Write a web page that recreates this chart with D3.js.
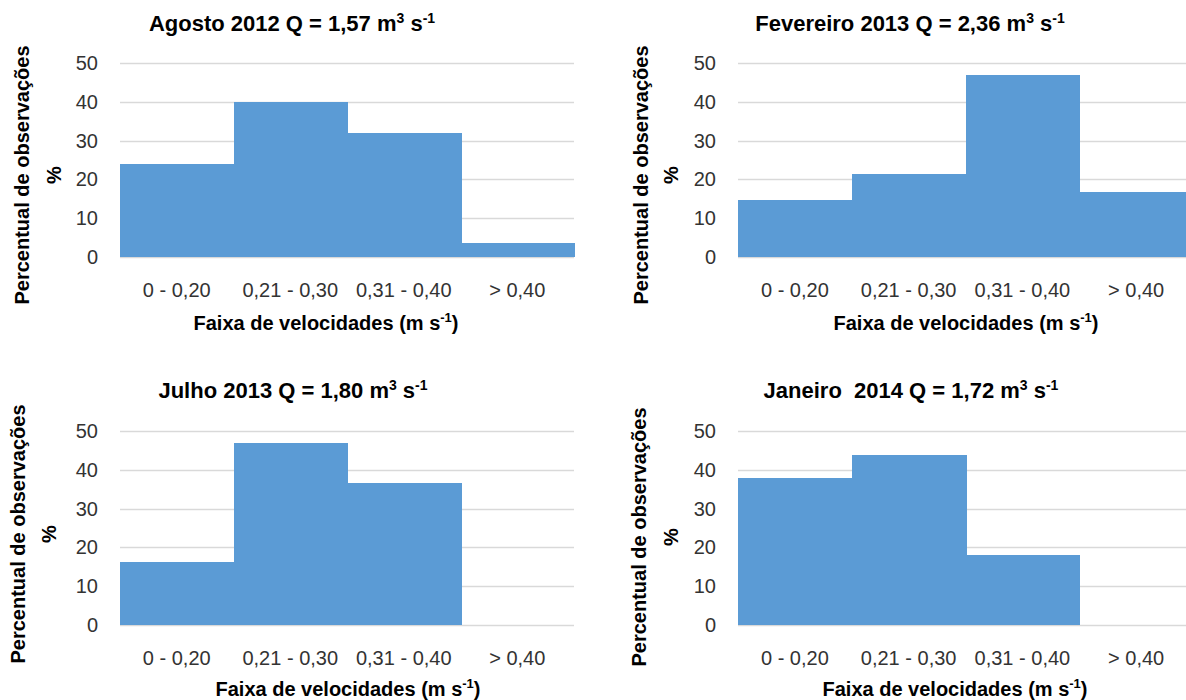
<!DOCTYPE html>
<html>
<head>
<meta charset="utf-8">
<script src="https://cdn.jsdelivr.net/npm/d3@7"></script>
<style>
  html, body { margin: 0; padding: 0; background: #fff; }
  svg { display: block; }
  text { font-family: "Liberation Sans", Arial, sans-serif; }
</style>
</head>
<body>
<svg id="chart" width="1186" height="700"></svg>
<script>
// ---- data ----
const categories = ["0 - 0,20", "0,21 - 0,30", "0,31 - 0,40", "> 0,40"];
const yTicks = [0, 10, 20, 30, 40, 50];
const periods = ["Agosto 2012", "Fevereiro 2013", "Julho 2013", "Janeiro\u00a0 2014"];
const flows = ["1,57", "2,36", "1,80", "1,72"];
const agosto2012 = [24, 40, 32, 3.7];
const fevereiro2013 = [14.8, 21.5, 46.8, 16.7];
const julho2013 = [16.3, 46.9, 36.5, 0];
const janeiro2014 = [37.8, 43.9, 18.0, 0];
const seriesList = [agosto2012, fevereiro2013, julho2013, janeiro2014];
const yTitle = "Percentual de observações";
const yTitle2 = "%";
const xTitle = "Faixa de velocidades (m s";

// ---- layout ----
const layouts = [
  { left: 120, right: 574, top: 63, bottom: 257, titleX: 292, titleY: 31, yt1X: 29, yt2X: 61, ytY: 175, catY: 297, xtX: 326, xtY: 330 },
  { left: 738, right: 1193, top: 63, bottom: 257, titleX: 910, titleY: 31, yt1X: 648, yt2X: 678, ytY: 175, catY: 297, xtX: 966, xtY: 330 },
  { left: 120, right: 574, top: 431, bottom: 625, titleX: 293, titleY: 398, yt1X: 25, yt2X: 56, ytY: 534, catY: 665, xtX: 348, xtY: 696 },
  { left: 738, right: 1193, top: 431, bottom: 625, titleX: 911, titleY: 398, yt1X: 646, yt2X: 678, ytY: 537, catY: 665, xtX: 955, xtY: 696 }
];

const svg = d3.select("#chart");
const barColor = "#5B9BD5";
const gridColor = "#D9D9D9";
const textColor = "#333";

seriesList.forEach((values, i) => {
  const L = layouts[i];
  const g = svg.append("g");
  const x = d3.scaleBand().domain(categories).range([L.left, L.right]).padding(0);
  const y = d3.scaleLinear().domain([0, 50]).range([L.bottom, L.top]);

  // gridlines
  g.selectAll("line.grid").data(yTicks).join("line")
    .attr("x1", L.left).attr("x2", L.right)
    .attr("y1", d => Math.round(y(d)) + 0.5).attr("y2", d => Math.round(y(d)) + 0.5)
    .attr("stroke", gridColor).attr("stroke-width", 1.3);

  // bars
  g.selectAll("rect.bar").data(values).join("rect")
    .attr("x", (d, j) => Math.round(x(categories[j])))
    .attr("width", (d, j) => Math.round(x(categories[j]) + x.bandwidth()) - Math.round(x(categories[j])) + 1)
    .attr("y", d => y(d))
    .attr("height", d => y(0) - y(d))
    .attr("fill", barColor)
    .attr("shape-rendering", "crispEdges");

  // y tick labels
  g.selectAll("text.ytick").data(yTicks).join("text")
    .attr("x", L.left - 22).attr("y", d => y(d))
    .attr("dy", "0.35em").attr("text-anchor", "end")
    .attr("font-size", 20).attr("fill", textColor)
    .text(d => d);

  // category labels
  g.selectAll("text.cat").data(categories).join("text")
    .attr("x", d => x(d) + x.bandwidth() / 2).attr("y", L.catY)
    .attr("text-anchor", "middle").attr("font-size", 20).attr("fill", textColor)
    .text(d => d);

  // title
  const t = g.append("text").attr("x", L.titleX).attr("y", L.titleY)
    .attr("text-anchor", "middle").attr("font-size", 22).attr("font-weight", "bold").attr("fill", "#000");
  t.append("tspan").text(periods[i] + " Q = " + flows[i] + " m");
  t.append("tspan").attr("font-size", 14).attr("dy", -8).text("3");
  t.append("tspan").attr("dy", 8).text(" s");
  t.append("tspan").attr("font-size", 14).attr("dy", -8).text("-1");

  // x axis title
  const xt = g.append("text").attr("x", L.xtX).attr("y", L.xtY)
    .attr("text-anchor", "middle").attr("font-size", 20).attr("font-weight", "bold").attr("fill", "#000");
  xt.append("tspan").text(xTitle);
  xt.append("tspan").attr("font-size", 13).attr("dy", -8).text("-1");
  xt.append("tspan").attr("dy", 8).text(")");

  // y axis title (two lines)
  g.append("text").attr("transform", `translate(${L.yt1X},${L.ytY}) rotate(-90)`)
    .attr("text-anchor", "middle").attr("font-size", 20).attr("font-weight", "bold").attr("fill", "#000")
    .text(yTitle);
  g.append("text").attr("transform", `translate(${L.yt2X},${L.ytY}) rotate(-90)`)
    .attr("text-anchor", "middle").attr("font-size", 20).attr("font-weight", "bold").attr("fill", "#000")
    .text(yTitle2);
});
</script>
</body>
</html>
